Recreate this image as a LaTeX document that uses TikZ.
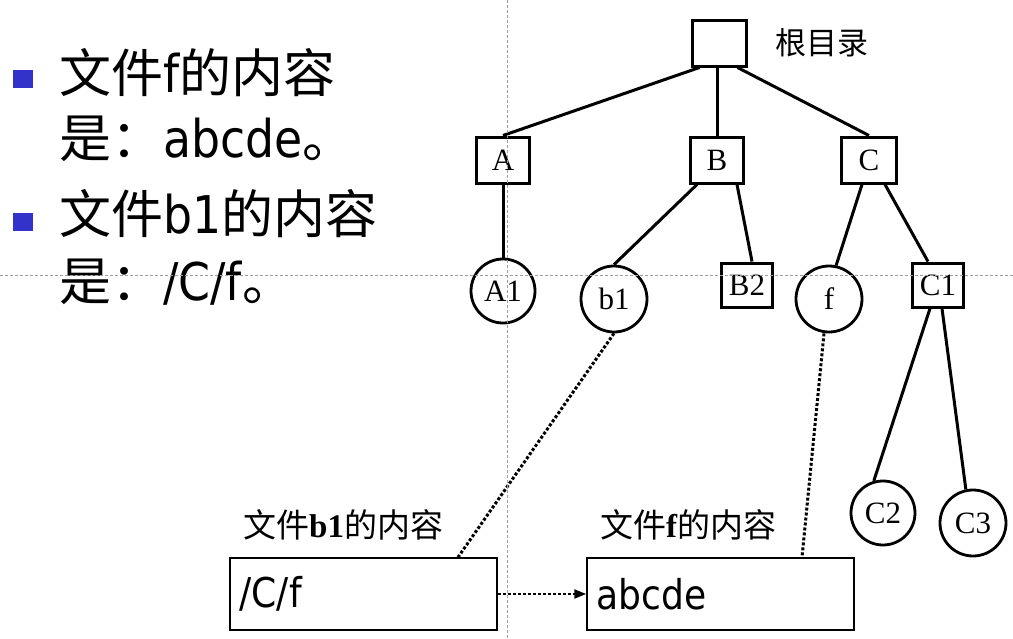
\documentclass[tikz,border=0pt]{standalone}
\usepackage{fontspec}
\setmainfont{DejaVu Sans}[FakeStretch=0.88]
\newfontfamily\cjk{Noto Sans CJK SC}
\newfontfamily\tnr{Liberation Serif}
\usetikzlibrary{arrows.meta,positioning,calc}
\definecolor{bulletblue}{RGB}{51,51,204}
\definecolor{guidegray}{gray}{0.62}
\newcommand{\zh}[1]{{\cjk #1}}

\begin{document}
\begin{tikzpicture}[x=1pt, y=-1pt,
  dirbox/.style={draw, line width=3pt, minimum width=53pt, minimum height=46pt, inner sep=0pt, font=\tnr\fontsize{31}{33}\selectfont},
  leafbox/.style={dirbox, minimum width=51pt, minimum height=44pt},
  filenode/.style={draw, circle, line width=2.8pt, inner sep=0pt, minimum size=65pt, font=\tnr\fontsize{31}{33}\selectfont},
  tree/.style={line width=3pt},
  link/.style={line width=3pt, dotted},
  bullet/.style={fill=bulletblue, minimum width=20pt, minimum height=18pt, inner sep=0pt},
  item/.style={anchor=base west, inner sep=0pt, font=\fontsize{52}{60}\selectfont},
  filebox/.style={draw, line width=1.5pt, minimum height=72pt, text width=248pt, inner xsep=9.5pt, align=left, font=\fontsize{41}{44}\selectfont},
  caption/.style={anchor=west, inner sep=0pt, font=\fontsize{33}{36}\selectfont},
  guide/.style={guidegray, line width=0.8pt, dash pattern=on 3pt off 2pt}
]
\useasboundingbox (0,0) rectangle (1013,638);

% left: bullet list
\node[bullet] (bul1) at (23,79) {};
\node[bullet] (bul2) at (23,222) {};
\node[item] (line1) at (59,92) {\zh{文件}f\zh{的内容}};
\node[item] (line2) at (59,157) {\zh{是：}abcde\zh{。}};
\node[item] (line3) at (59,233) {\zh{文件}b1\zh{的内容}};
\node[item] (line4) at (59,300) {\zh{是：}/C/f\zh{。}};

% directory tree
\node[dirbox, minimum width=54pt] (root) at (719,43) {};
\node[anchor=west, inner sep=0pt, font=\cjk\fontsize{31}{34}\selectfont] (rootlbl) at (775,43) {根目录};
\node[dirbox] (A) at (503,160) {A};
\node[dirbox] (B) at (717,160) {B};
\node[dirbox, minimum width=55pt] (C) at (869,160) {C};
\node[filenode, minimum size=64pt] (A1) at (503,291) {A1};
\node[filenode, minimum size=66pt] (b1) at (614,299) {b1};
\node[leafbox] (B2) at (747,285) {B2};
\node[filenode, minimum size=66pt] (f) at (829,299) {f};
\node[leafbox] (C1) at (938,285) {C1};
\node[filenode, minimum size=64pt] (C2) at (883,513) {C2};
\node[filenode, minimum size=66pt] (C3) at (973,523) {C3};

\draw[tree] ([xshift=9pt]root.south west) -- (A.north);
\draw[tree] (root.south -| B.north) -- (B.north);
\draw[tree] ([xshift=-10pt]root.south east) -- (C.north);
\draw[tree] (A) -- (A1);
\draw[tree] ([xshift=-20pt]B.south) -- (b1.north);
\draw[tree] ([xshift=20pt]B.south) -- ([xshift=5pt]B2.north);
\draw[tree] ([xshift=-7pt]C.south) -- (f.78);
\draw[tree] ([xshift=16pt]C.south) -- ([xshift=-10pt]C1.north);
\draw[tree] ([xshift=-8pt]C1.south) -- (C2.106);
\draw[tree] ([xshift=4pt]C1.south) -- (C3.102);

% file contents
\node[filebox] (b1c) at (363.5,594) {/C/f};
\node[filebox] (fc) at (720.5,594) {abcde};
\node[caption] (b1lbl) at (243,525) {\zh{文件}{\tnr\bfseries b1}\zh{的内容}};
\node[caption] (flbl) at (600,525) {\zh{文件}{\tnr\bfseries f}\zh{的内容}};

\draw[link] (b1.south) -- ([xshift=94.5pt]b1c.north);
\draw[link] ([xshift=-5pt]f.south) -- ([xshift=81.5pt]fc.north);
\draw[link, line width=2.2pt, -{Triangle[length=12pt, width=9pt]}] (b1c) -- (fc);

% guides
\draw[guide] (507,0) -- (507,638);
\draw[guide] (0,275) -- (1013,275);
\end{tikzpicture}
\end{document}
